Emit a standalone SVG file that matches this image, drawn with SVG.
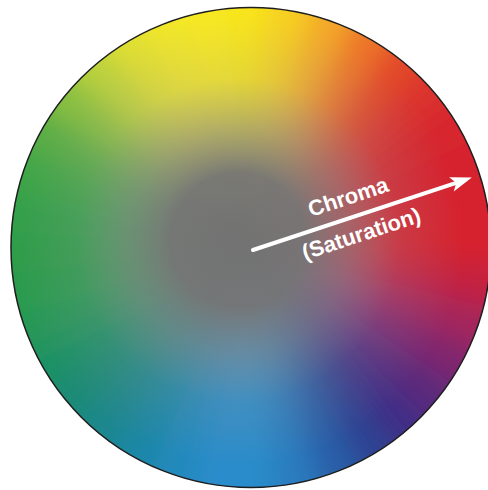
<svg xmlns="http://www.w3.org/2000/svg" xmlns:xlink="http://www.w3.org/1999/xlink" width="488" height="490" viewBox="0 0 488 490">
  <style>
    .lbl { font-family: "Liberation Sans", Arial, Helvetica, sans-serif; font-weight: bold; font-size: 22px; fill: #ffffff; text-anchor: middle; }
    .arrowline { stroke: #ffffff; stroke-width: 4; stroke-linecap: round; fill: none; }
  </style>
  <defs>
    <path id="w" d="M0,0 L318.2,-33.4 L318.2,33.4 Z"/>
    <clipPath id="disc"><circle cx="251" cy="247.5" r="240"/></clipPath>
    <filter id="soft" filterUnits="userSpaceOnUse" x="-100" y="-100" width="700" height="700">
      <feGaussianBlur stdDeviation="13"/>
    </filter>
    <radialGradient id="gray" gradientUnits="userSpaceOnUse" cx="238" cy="240" r="225">
      <stop offset="0" stop-color="#727272" stop-opacity="1"/>
      <stop offset="0.3" stop-color="#767676" stop-opacity="0.97"/>
      <stop offset="0.5" stop-color="#8a8a8a" stop-opacity="0.62"/>
      <stop offset="0.72" stop-color="#9a9a9a" stop-opacity="0.2"/>
      <stop offset="1" stop-color="#9a9a9a" stop-opacity="0"/>
    </radialGradient>
  </defs>
  <rect width="488" height="490" fill="#ffffff"/>

  <g id="wheel">
    <g clip-path="url(#disc)">
      <g filter="url(#soft)">
        <g transform="translate(251,247.5)">
          <use xlink:href="#w" href="#w" transform="rotate(0)" fill="#d6202f"/>
          <use xlink:href="#w" href="#w" transform="rotate(10)" fill="#c42140"/>
          <use xlink:href="#w" href="#w" transform="rotate(20)" fill="#a4255c"/>
          <use xlink:href="#w" href="#w" transform="rotate(30)" fill="#80286e"/>
          <use xlink:href="#w" href="#w" transform="rotate(40)" fill="#5c2a7c"/>
          <use xlink:href="#w" href="#w" transform="rotate(50)" fill="#3f2f86"/>
          <use xlink:href="#w" href="#w" transform="rotate(60)" fill="#2d4392"/>
          <use xlink:href="#w" href="#w" transform="rotate(70)" fill="#2a5fa8"/>
          <use xlink:href="#w" href="#w" transform="rotate(80)" fill="#2a7cbe"/>
          <use xlink:href="#w" href="#w" transform="rotate(90)" fill="#2a8cca"/>
          <use xlink:href="#w" href="#w" transform="rotate(100)" fill="#2a8cca"/>
          <use xlink:href="#w" href="#w" transform="rotate(110)" fill="#2389bc"/>
          <use xlink:href="#w" href="#w" transform="rotate(120)" fill="#1f87a6"/>
          <use xlink:href="#w" href="#w" transform="rotate(130)" fill="#1b878e"/>
          <use xlink:href="#w" href="#w" transform="rotate(140)" fill="#1b8a78"/>
          <use xlink:href="#w" href="#w" transform="rotate(150)" fill="#1f9066"/>
          <use xlink:href="#w" href="#w" transform="rotate(160)" fill="#259758"/>
          <use xlink:href="#w" href="#w" transform="rotate(170)" fill="#2a9b4e"/>
          <use xlink:href="#w" href="#w" transform="rotate(180)" fill="#2e9d4a"/>
          <use xlink:href="#w" href="#w" transform="rotate(190)" fill="#33a048"/>
          <use xlink:href="#w" href="#w" transform="rotate(200)" fill="#40a646"/>
          <use xlink:href="#w" href="#w" transform="rotate(210)" fill="#5aae44"/>
          <use xlink:href="#w" href="#w" transform="rotate(220)" fill="#88c040"/>
          <use xlink:href="#w" href="#w" transform="rotate(230)" fill="#bcd23a"/>
          <use xlink:href="#w" href="#w" transform="rotate(240)" fill="#e0df30"/>
          <use xlink:href="#w" href="#w" transform="rotate(250)" fill="#f1e62a"/>
          <use xlink:href="#w" href="#w" transform="rotate(260)" fill="#f7e822"/>
          <use xlink:href="#w" href="#w" transform="rotate(270)" fill="#f8e41e"/>
          <use xlink:href="#w" href="#w" transform="rotate(280)" fill="#f6cf22"/>
          <use xlink:href="#w" href="#w" transform="rotate(290)" fill="#f3a82a"/>
          <use xlink:href="#w" href="#w" transform="rotate(300)" fill="#ec762c"/>
          <use xlink:href="#w" href="#w" transform="rotate(310)" fill="#e24a2c"/>
          <use xlink:href="#w" href="#w" transform="rotate(320)" fill="#da322d"/>
          <use xlink:href="#w" href="#w" transform="rotate(330)" fill="#d7262e"/>
          <use xlink:href="#w" href="#w" transform="rotate(340)" fill="#d6222f"/>
          <use xlink:href="#w" href="#w" transform="rotate(350)" fill="#d6202f"/>
        </g>
      </g>
      <circle cx="251" cy="247.5" r="240" fill="url(#gray)"/>
    </g>
    <circle cx="251" cy="247.5" r="240" fill="none" stroke="#1e1e1e" stroke-width="1.5"/>
  </g>

  <g id="connectors">
    <g id="chroma-arrow" transform="translate(253,250) rotate(-18.3)">
      <line class="arrowline" x1="0" y1="0" x2="214" y2="0"/>
      <polygon points="230.5,0 209,-7.5 214,0 209,7.5" fill="#ffffff"/>
    </g>
  </g>

  <g id="label-chroma" transform="translate(253,250) rotate(-18.3)">
    <text class="lbl" x="107" y="-13">Chroma</text>
  </g>
  <g id="label-saturation" transform="translate(253,250) rotate(-18.3)">
    <text class="lbl" x="108" y="26">(Saturation)</text>
  </g>
</svg>
